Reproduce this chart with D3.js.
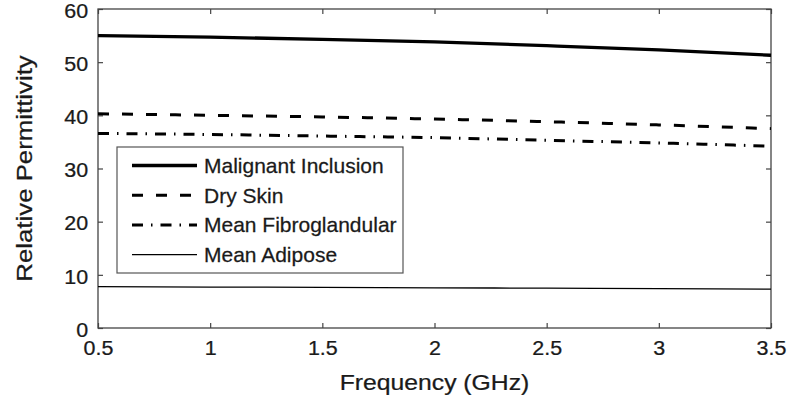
<!DOCTYPE html>
<html>
<head>
<meta charset="utf-8">
<script src="https://cdn.jsdelivr.net/npm/d3@7"></script>
<style>
  body { margin: 0; background: #fff; }
  svg { display: block; }
  text { font-family: "Liberation Sans", Arial, Helvetica, sans-serif; fill: #1a1a1a; stroke: #1a1a1a; stroke-width: 0.25; }
</style>
</head>
<body>
<svg id="chart" width="794" height="408"></svg>
<script>
// data
var freq = [0.5, 1, 1.5, 2, 2.5, 3, 3.5];
var malignant = [55.0, 54.7, 54.3, 53.8, 53.1, 52.3, 51.3];
var drySkin = [40.3, 40.0, 39.7, 39.3, 38.8, 38.2, 37.5];
var fibro = [36.6, 36.4, 36.1, 35.8, 35.3, 34.8, 34.2];
var adipose = [7.8, 7.7, 7.65, 7.55, 7.5, 7.4, 7.3];
var xTicks = [0.5, 1, 1.5, 2, 2.5, 3, 3.5];
var yTicks = [0, 10, 20, 30, 40, 50, 60];
var seriesNames = ['Malignant Inclusion', 'Dry Skin', 'Mean Fibroglandular', 'Mean Adipose'];

var svg = d3.select('#chart');
var margin_left = 98, margin_top = 9, right = 771, bottom = 328;
var sx = 1.1; // glyphs in the figure are a bit wide

var x = d3.scaleLinear().domain([0.5, 3.5]).range([margin_left, right]);
var y = d3.scaleLinear().domain([0, 60]).range([bottom, margin_top]);

var styles = [
    {w: 3.3, dash: null},
    {w: 3, dash: '11,13'},
    {w: 3, dash: '11,8,1.5,8'},
    {w: 1.3, dash: null}
];
var allSeries = [malignant, drySkin, fibro, adipose];

// axes, ticks pointing inward, box all round
var axisColor = '#444';
var fmt = function(d) { return String(d); };
var gx = svg.append('g').attr('transform', 'translate(0,' + bottom + ')')
    .call(d3.axisBottom(x).tickValues(xTicks).tickFormat(fmt).tickSizeInner(-5).tickSizeOuter(0).tickPadding(13));
var gxt = svg.append('g').attr('transform', 'translate(0,' + margin_top + ')')
    .call(d3.axisTop(x).tickValues(xTicks).tickFormat('').tickSizeInner(-5).tickSizeOuter(0));
var gy = svg.append('g').attr('transform', 'translate(' + margin_left + ',0)')
    .call(d3.axisLeft(y).tickValues(yTicks).tickFormat(fmt).tickSizeInner(-5).tickSizeOuter(0).tickPadding(9));
var gyr = svg.append('g').attr('transform', 'translate(' + right + ',0)')
    .call(d3.axisRight(y).tickValues(yTicks).tickFormat('').tickSizeInner(-5).tickSizeOuter(0));

[gx, gxt, gy, gyr].forEach(function(g) {
    g.select('.domain').remove();
    g.selectAll('.tick line').attr('stroke', axisColor).attr('stroke-width', 1.2);
    g.selectAll('.tick text').attr('font-size', 19.5).attr('fill', '#1a1a1a')
        .attr('font-family', '"Liberation Sans", Arial, sans-serif');
});
gx.selectAll('.tick text').attr('transform', 'scale(' + sx + ',1)');
gy.selectAll('.tick text').attr('transform', 'scale(' + sx + ',1)').attr('dy', '0.42em');

svg.append('rect')
    .attr('x', margin_left).attr('y', margin_top)
    .attr('width', right - margin_left).attr('height', bottom - margin_top)
    .attr('fill', 'none').attr('stroke', axisColor).attr('stroke-width', 1.3);

// lines
var line_func = d3.line()
    .x(function(d, i) { return x(freq[i]); })
    .y(function(d) { return y(d); })
    .curve(d3.curveMonotoneX);

allSeries.forEach(function(s, i) {
    svg.append('path')
        .attr('d', line_func(s))
        .attr('fill', 'none')
        .attr('stroke', '#000')
        .attr('stroke-width', styles[i].w)
        .attr('stroke-dasharray', styles[i].dash);
});

// legend
var legend = svg.append('g');
legend.append('rect')
    .attr('x', 117).attr('y', 147).attr('width', 286).attr('height', 126)
    .attr('fill', '#fff').attr('stroke', '#555').attr('stroke-width', 1.2);
seriesNames.forEach(function(name, i) {
    var base = 173 + i * 29.7;
    legend.append('line')
        .attr('x1', 132).attr('x2', 197)
        .attr('y1', base - 7.5).attr('y2', base - 7.5)
        .attr('stroke', '#000')
        .attr('stroke-width', styles[i].w)
        .attr('stroke-dasharray', styles[i].dash);
    legend.append('text')
        .attr('transform', 'translate(204,' + base + ') scale(1.05,1)')
        .attr('font-size', 20)
        .text(name);
});

// axis titles
svg.append('text')
    .attr('transform', 'translate(' + ((margin_left + right) / 2) + ',390) scale(1.15,1)')
    .attr('text-anchor', 'middle')
    .attr('font-size', 21.5)
    .text('Frequency (GHz)');
svg.append('text')
    .attr('transform', 'translate(32,' + ((margin_top + bottom) / 2) + ') rotate(-90) scale(1.2,1)')
    .attr('text-anchor', 'middle')
    .attr('font-size', 21.5)
    .text('Relative Permittivity');
</script>
</body>
</html>
